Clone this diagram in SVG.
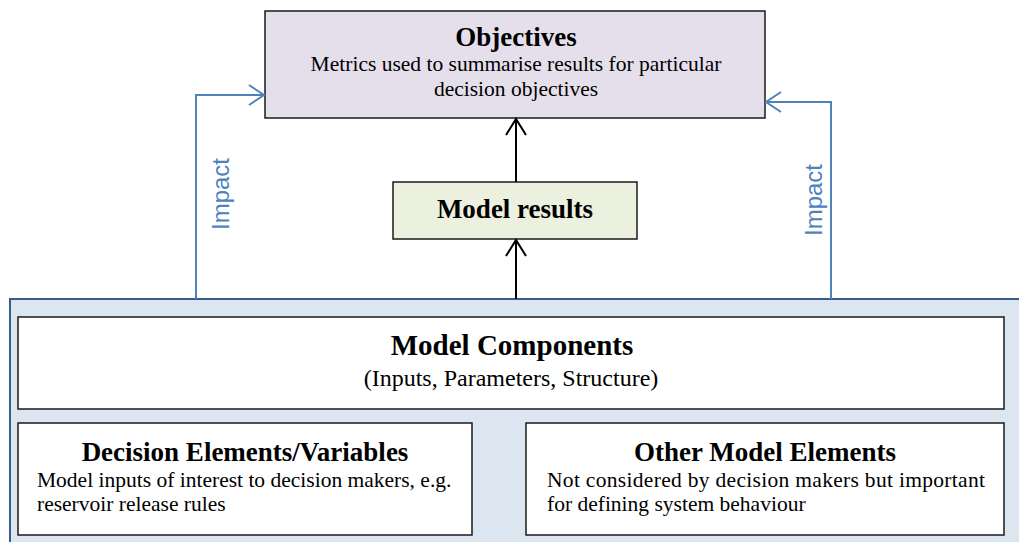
<svg xmlns="http://www.w3.org/2000/svg" width="1019" height="542" viewBox="0 0 1019 542">
  <style>
    .box { stroke: #1a1a1a; stroke-width: 1.5; }
    .serif { font-family: "Liberation Serif", "Times New Roman", serif; fill: #000; }
    .title { font-weight: bold; }
    .body { font-size: 21.5px; }
    .blue { stroke: #4f81bd; stroke-width: 2; fill: none; }
    .black { stroke: #000; stroke-width: 2; fill: none; }
    .lbl { font-family: "Liberation Sans", Arial, sans-serif; font-size: 24px; fill: #4f81bd; }
  </style>
  <rect width="1019" height="542" fill="#ffffff"/>

  <g id="container">
    <rect x="10" y="299" width="1015" height="250" fill="#dce6f1" stroke="#385d8a" stroke-width="2"/>
  </g>

  <g id="objectives">
    <rect class="box" x="265" y="11" width="500" height="107" fill="#e5dfec"/>
    <text class="serif title" x="516" y="46" font-size="27" text-anchor="middle">Objectives</text>
    <text class="serif body" x="516" y="71" text-anchor="middle">Metrics used to summarise results for particular</text>
    <text class="serif body" x="516" y="96" text-anchor="middle">decision objectives</text>
  </g>

  <g id="model-results">
    <rect class="box" x="393" y="182" width="244" height="57" fill="#ebf1de"/>
    <text class="serif title" x="515" y="218" font-size="27" text-anchor="middle">Model results</text>
  </g>

  <g id="model-components">
    <rect class="box" x="18" y="317" width="986" height="92" fill="#ffffff"/>
    <text class="serif title" x="512" y="355" font-size="29" text-anchor="middle">Model Components</text>
    <text class="serif" x="511" y="386" font-size="24" text-anchor="middle">(Inputs, Parameters, Structure)</text>
  </g>

  <g id="decision-elements">
    <rect class="box" x="18" y="423" width="454" height="112" fill="#ffffff"/>
    <text class="serif title" x="245" y="461" font-size="27" text-anchor="middle">Decision Elements/Variables</text>
    <text class="serif body" x="37" y="487">Model inputs of interest to decision makers, e.g.</text>
    <text class="serif body" x="37" y="511">reservoir release rules</text>
  </g>

  <g id="other-elements">
    <rect class="box" x="526" y="423" width="478" height="112" fill="#ffffff"/>
    <text class="serif title" x="765" y="461" font-size="27" text-anchor="middle">Other Model Elements</text>
    <text class="serif body" x="547" y="487" textLength="438" lengthAdjust="spacing">Not considered by decision makers but important</text>
    <text class="serif body" x="547" y="511">for defining system behaviour</text>
  </g>

  <g id="connectors">
    <!-- left impact link -->
    <polyline class="blue" points="196,299 196,95 264,95"/>
    <polyline class="blue" points="249,85 264,95 249,105"/>
    <!-- right impact link -->
    <polyline class="blue" points="831,299 831,102 766,102"/>
    <polyline class="blue" points="781,92 766,102 781,112"/>
    <!-- components to results -->
    <line class="black" x1="516" y1="299" x2="516" y2="240"/>
    <polyline class="black" points="506,256 516,240 526,256"/>
    <!-- results to objectives -->
    <line class="black" x1="516" y1="182" x2="516" y2="119"/>
    <polyline class="black" points="506,135 516,119 526,135"/>
    <text class="lbl" transform="translate(229,194) rotate(-90)" text-anchor="middle">Impact</text>
    <text class="lbl" transform="translate(822,200) rotate(-90)" text-anchor="middle">Impact</text>
  </g>
</svg>
